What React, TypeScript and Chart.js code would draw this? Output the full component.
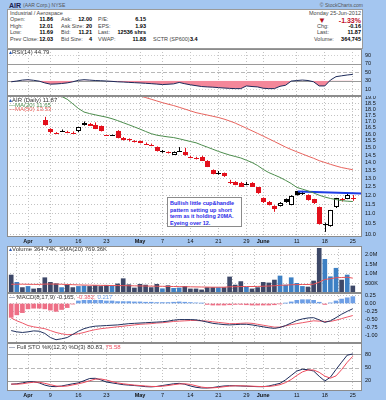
import React, { useEffect, useRef } from "react";
import { Chart, registerables } from "chart.js";
Chart.register(...registerables);

const FONT = '"Liberation Sans", Arial, sans-serif';
const FRAME = "#a4c6f0";

// trading days Mar 28 .. Jun 25, 2012
const dates = [
  "Mar 28","Mar 29","Mar 30","Apr 2","Apr 3","Apr 4","Apr 5","Apr 9","Apr 10","Apr 11","Apr 12","Apr 13",
  "Apr 16","Apr 17","Apr 18","Apr 19","Apr 20","Apr 23","Apr 24","Apr 25","Apr 26","Apr 27","Apr 30",
  "May 1","May 2","May 3","May 4","May 7","May 8","May 9","May 10","May 11","May 14","May 15","May 16",
  "May 17","May 18","May 21","May 22","May 23","May 24","May 25","May 29","May 30","May 31","Jun 1",
  "Jun 4","Jun 5","Jun 6","Jun 7","Jun 8","Jun 11","Jun 12","Jun 13","Jun 14","Jun 15","Jun 18","Jun 19",
  "Jun 20","Jun 21","Jun 22","Jun 25"];

const tickLabels = ["Apr","9","16","23","May","7","14","21","29","June","11","18","25"];
const tickIndex = [3,7,12,17,23,27,32,37,42,45,51,56,61];
const monthTicks = [3,23,45];

const opens = [19.7,19.8,20.0,19.8,19.8,19.6,
  17.1,16.37,16.08,16.25,16.16,16.12,16.22,16.72,16.78,16.72,16.62,
  15.93,15.94,16.22,15.72,15.6,15.5,15.48,15.28,15.21,15.07,
  14.72,14.68,14.53,14.79,14.72,14.37,14.3,14.39,14.12,13.51,
  13.3,13.31,12.79,12.77,12.73,12.66,12.73,12.45,11.83,11.64,
  11.42,11.41,11.78,11.5,12.22,12.1,11.99,11.78,11.33,10.44,
  10.4,11.33,11.76,11.81,11.86];
const highs = [20.0,20.3,20.2,20.1,20.0,19.8,
  17.35,16.45,16.15,16.35,16.25,16.2,16.55,16.98,16.86,16.9,16.66,
  15.95,15.96,16.3,15.78,15.68,15.55,15.52,15.38,15.3,15.1,
  14.85,14.75,14.75,15.05,15.0,14.45,14.38,14.45,14.15,13.55,
  13.45,13.35,12.9,12.82,12.78,12.78,12.76,12.47,11.88,11.68,
  11.45,11.62,11.82,12.0,12.25,12.25,12.05,11.8,11.38,10.55,
  11.2,11.85,11.85,12.1,12.01];
const lows = [19.4,19.6,19.5,19.5,19.4,19.3,
  16.65,16.05,16.0,16.18,16.07,16.02,16.15,16.65,16.62,16.38,16.2,
  15.88,15.88,15.68,15.52,15.45,15.38,15.32,15.2,15.12,14.74,
  14.65,14.6,14.5,14.72,14.45,14.28,14.2,14.1,13.7,13.24,
  13.22,13.08,12.65,12.58,12.5,12.58,12.5,12.08,11.57,11.44,
  11.1,11.38,11.58,11.45,11.98,12.02,11.7,11.52,10.45,10.1,
  10.35,11.3,11.65,11.78,11.69];
const closes = [19.5,20.1,19.7,19.9,19.6,19.4,
  16.7,16.11,16.05,16.27,16.15,16.1,16.52,16.88,16.66,16.42,16.22,
  15.91,15.92,15.71,15.56,15.52,15.48,15.34,15.27,15.2,14.76,
  14.77,14.66,14.72,14.8,14.49,14.35,14.28,14.12,13.73,13.26,
  13.31,13.1,12.77,12.61,12.52,12.67,12.52,12.11,11.59,11.46,
  11.25,11.59,11.62,11.97,12.0,12.11,11.73,11.55,10.48,10.5,
  11.19,11.83,11.77,12.03,11.87];

const ma20 = [21.8,21.4,21.0,20.6,20.2,19.9,19.6,19.35,19.2,19.1,18.85,18.45,18.05,17.75,17.62,17.52,17.42,
  17.33,17.2,17.05,16.88,16.72,16.55,16.38,16.2,16.03,15.92,15.85,15.79,15.74,15.65,15.55,15.45,15.36,
  15.2,15.05,14.9,14.75,14.62,14.5,14.4,14.3,14.15,14.0,13.8,13.55,13.35,13.2,13.05,12.87,12.68,12.45,
  12.35,12.25,12.13,12.0,11.9,11.82,11.76,11.7,11.67,11.65];
const ma50 = [22.6,22.45,22.3,22.15,22.0,21.85,21.7,21.55,21.4,21.25,21.1,20.95,20.8,20.65,20.5,20.35,
  20.2,20.05,19.9,19.75,19.6,19.45,19.3,19.15,19.0,18.85,18.7,18.55,18.42,18.3,18.15,18.0,17.85,17.7,
  17.6,17.5,17.4,17.3,17.17,17.02,16.85,16.65,16.45,16.25,16.05,15.85,15.65,15.45,15.25,15.05,14.88,
  14.72,14.57,14.42,14.28,14.12,14.0,13.88,13.77,13.67,13.6,13.53];
const trendX = [51.2, 62.7];
const trendY = [12.22, 12.1];

const rsi = [27.5,29.3,31.5,32.4,31,29,25,22,22.5,23.5,25,27.5,31,32.4,31.5,30.5,30,29.3,28.5,27.5,27,
  26.2,25.5,24.8,24,23.2,22.2,21.1,21.8,22.7,26,23,20.5,18.5,16.5,15.6,15,14,13,12.2,11.6,11.6,17.9,
  16.5,15.6,12.5,11.6,11.6,17,19.5,29.2,30.5,31.6,30.5,27.5,17.9,17.9,31.6,39.5,41.5,43.4,44.79];

const volumes = [930,550,280,340,210,240,790,550,480,280,410,280,340,360,340,380,340,400,380,470,740,
  430,260,450,410,280,450,220,380,240,260,340,210,210,160,280,280,280,280,830,410,590,310,210,280,550,
  520,670,880,410,790,500,340,310,620,2310,1740,840,1280,670,930,365];
const volSma = [450,455,455,450,445,445,460,465,460,450,440,430,420,410,405,400,395,390,385,385,380,
  375,370,365,360,355,350,345,340,335,330,325,320,315,310,305,300,300,300,320,325,335,335,335,340,350,
  360,375,400,405,425,435,440,440,455,560,700,740,790,800,815,769];

const macd = [-0.86,-0.9,-0.92,-0.9,-0.87,-0.88,-0.95,-1.08,-1.15,-1.12,-1.08,-0.98,-0.88,-0.8,-0.75,
  -0.72,-0.71,-0.7,-0.69,-0.68,-0.66,-0.64,-0.63,-0.62,-0.61,-0.6,-0.59,-0.58,-0.56,-0.53,-0.51,-0.51,
  -0.51,-0.52,-0.55,-0.59,-0.63,-0.65,-0.67,-0.68,-0.67,-0.66,-0.66,-0.68,-0.71,-0.74,-0.77,-0.79,-0.76,
  -0.7,-0.62,-0.54,-0.49,-0.46,-0.45,-0.52,-0.6,-0.55,-0.45,-0.34,-0.25,-0.165];
const signal = [-0.46,-0.55,-0.62,-0.7,-0.74,-0.77,-0.8,-0.86,-0.92,-0.96,-0.99,-0.98,-0.96,-0.92,-0.87,
  -0.83,-0.8,-0.78,-0.76,-0.74,-0.72,-0.7,-0.68,-0.66,-0.65,-0.64,-0.62,-0.61,-0.59,-0.57,-0.56,-0.55,
  -0.54,-0.54,-0.55,-0.56,-0.58,-0.6,-0.62,-0.64,-0.64,-0.63,-0.62,-0.63,-0.66,-0.69,-0.72,-0.75,-0.75,
  -0.71,-0.67,-0.64,-0.61,-0.58,-0.55,-0.56,-0.57,-0.57,-0.53,-0.48,-0.43,-0.382];
const histogram = [-0.44,-0.36,-0.29,-0.17,-0.15,-0.15,-0.17,-0.21,-0.25,-0.19,-0.13,-0.02,0.08,0.1,0.1,
  0.1,0.1,0.08,0.08,0.06,0.06,0.06,0.05,0.05,0.04,0.04,0.03,0.03,0.03,0.04,0.05,0.04,0.03,0.02,0.01,
  -0.03,-0.05,-0.05,-0.05,-0.04,-0.03,-0.03,-0.04,-0.05,-0.05,-0.05,-0.05,-0.04,-0.01,0.01,0.05,0.1,
  0.12,0.12,0.1,0.04,-0.03,0.02,0.08,0.14,0.18,0.217];

const stoK = [12,13,15,17.5,17.7,15,10,7,6.5,8,10.5,13,15,20,25,25.5,22,17,15,13,11,10,9,8,6.5,6,7,9,
  11,13,14,12,8,5,3.5,3.4,4.5,6.5,8,8.7,8.5,8,7.5,7,6.5,6.4,8,11,14,22,32,42,46,45,42,30,19.3,28,45.5,
  62,78,80.83];
const stoD = [12.5,12,13,15,16.5,16.5,14,11,8,7,8,10.5,13,16,20,23.5,24,21.5,18,15,13,11.5,10,9,8,7,
  6.8,7.5,9,11,12.5,13,11.5,8.5,5.5,4,3.8,4.8,6.3,7.7,8.4,8.4,8,7.5,7,6.6,7,8.5,11,15.7,22.7,32,40,
  44.3,44.3,39,30.4,25.8,30.9,45.2,61.8,75.58];

const X_MIN = -0.75;
const X_MAX = 62.64;
const pts = (arr: number[]) => arr.map((v, i) => ({ x: i, y: v }));

const xOpts = (labelH: number) => ({
  type: "linear", min: X_MIN, max: X_MAX, offset: false,
  afterBuildTicks: (s: any) => { s.ticks = tickIndex.map((v) => ({ value: v })); },
  afterFit: (s: any) => { s.height = labelH; s.paddingLeft = 0; s.paddingRight = 0; },
  grid: { color: "#c2c2c2", drawTicks: false, lineWidth: 1 },
  border: { display: false, dash: [1, 2] },
  ticks: {
    display: labelH > 0, autoSkip: false, maxRotation: 0, minRotation: 0, padding: 1, color: "#111",
    font: (c: any) => ({ family: FONT, size: 5.5, weight: c.tick && monthTicks.includes(c.tick.value) ? "bold" : "normal" }),
    callback: (v: number) => { const k = tickIndex.indexOf(v); return k >= 0 ? tickLabels[k] : ""; },
  },
});

const yOpts = (min: number, max: number, ticks: number[], fmt: (v: number) => string, grid = true, type = "linear") => ({
  type, position: "right", min, max,
  afterBuildTicks: (s: any) => { s.ticks = ticks.map((v) => ({ value: v })); },
  afterFit: (s: any) => { s.width = 24; s.paddingTop = 0; s.paddingBottom = 0; },
  grid: { display: grid, color: "#c2c2c2", drawTicks: false },
  border: { display: false, dash: [1, 2] },
  ticks: { padding: 3, color: "#111", autoSkip: false, font: { family: FONT, size: 5.5 }, callback: (v: number) => fmt(v) },
});

const decor = {
  id: "decor",
  beforeDraw(chart: any) {
    const { ctx, chartArea: a } = chart;
    ctx.save();
    ctx.fillStyle = "#fff";
    ctx.fillRect(a.left, a.top, a.right - a.left, a.bottom - a.top);
    ctx.restore();
  },
  beforeDatasetsDraw(chart: any, _args: any, opts: any) {
    const { ctx, chartArea: a, scales } = chart;
    const lines = (opts && opts.hlines) || [];
    ctx.save();
    for (const l of lines) {
      const py = Math.round(scales.y.getPixelForValue(l.v)) + 0.5;
      ctx.strokeStyle = l.color;
      ctx.setLineDash(l.dash || []);
      ctx.lineWidth = 1;
      ctx.beginPath();
      ctx.moveTo(a.left, py);
      ctx.lineTo(a.right, py);
      ctx.stroke();
    }
    ctx.restore();
  },
  afterDraw(chart: any) {
    const { ctx, chartArea: a } = chart;
    ctx.save();
    ctx.strokeStyle = "#8c8c8c";
    ctx.lineWidth = 1;
    ctx.strokeRect(a.left + 0.5, a.top + 0.5, a.right - a.left - 1, a.bottom - a.top - 1);
    ctx.restore();
  },
};

const candles = {
  id: "candles",
  beforeDatasetsDraw(chart: any) {
    const { ctx, chartArea: a, scales } = chart;
    const x = scales.x, y = scales.y;
    ctx.save();
    ctx.beginPath();
    ctx.rect(a.left, a.top, a.right - a.left, a.bottom - a.top);
    ctx.clip();
    for (let i = 0; i < closes.length; i++) {
      const prev = i > 0 ? closes[i - 1] : opens[i];
      const color = closes[i] < prev ? "#e3101c" : "#000";
      const cx = Math.round(x.getPixelForValue(i));
      const yo = y.getPixelForValue(opens[i]);
      const yc = y.getPixelForValue(closes[i]);
      const yh = y.getPixelForValue(highs[i]);
      const yl = y.getPixelForValue(lows[i]);
      ctx.strokeStyle = color;
      ctx.lineWidth = 1;
      ctx.beginPath();
      ctx.moveTo(cx + 0.5, yh);
      ctx.lineTo(cx + 0.5, yl);
      ctx.stroke();
      const top = Math.round(Math.min(yo, yc));
      const h = Math.max(1, Math.round(Math.abs(yo - yc)));
      if (closes[i] > opens[i] && h > 1) {
        ctx.fillStyle = "#fff";
        ctx.fillRect(cx - 2, top, 5, h);
        ctx.strokeRect(cx - 1.5, top + 0.5, 4, h - 1);
      } else {
        ctx.fillStyle = color;
        ctx.fillRect(cx - 2, top, 5, h);
      }
    }
    ctx.restore();
  },
};

const base = (extra: any) => ({
  responsive: false, maintainAspectRatio: false, animation: false, events: [],
  layout: { padding: 0 },
  plugins: { legend: { display: false }, tooltip: { enabled: false }, ...extra },
});

const line = (arr: number[], color: string, width = 1, extra: any = {}) => ({
  type: "line", data: pts(arr), borderColor: color, borderWidth: width, pointRadius: 0, tension: 0, ...extra,
});

const rsiConfig = () => ({
  type: "line",
  data: { datasets: [line(rsi, "#1c2a5a", 1, { fill: { target: { value: 30 }, above: "rgba(0,0,0,0)", below: "#f4879a" } })] },
  options: {
    ...base({ decor: { hlines: [
      { v: 90, color: "#cfcfcf", dash: [1, 2] }, { v: 70, color: "#9a9a9a" }, { v: 50, color: "#b8b8b8", dash: [4, 2] },
      { v: 30, color: "#9a9a9a" }, { v: 10, color: "#cfcfcf", dash: [1, 2] }] } }),
    scales: { x: xOpts(0), y: yOpts(-5.6, 104, [10, 30, 50, 70, 90], (v) => String(v), false) },
  },
  plugins: [decor],
});

const priceTicks = [10, 10.5, 11, 11.5, 12, 12.5, 13, 13.5, 14, 14.5, 15, 15.5, 16, 16.5, 17, 17.5, 18, 18.5, 19];
const priceConfig = () => ({
  type: "line",
  data: { datasets: [
    line(ma20, "#4d8d4d"),
    line(ma50, "#e8645e"),
    { type: "line", data: trendX.map((x, k) => ({ x, y: trendY[k] })), borderColor: "#1d3de6", borderWidth: 2, pointRadius: 0 },
  ] },
  options: {
    ...base({ decor: { hlines: [] } }),
    scales: { x: xOpts(9), y: yOpts(9.86, 19.14, priceTicks, (v) => v.toFixed(1), true, "logarithmic") },
  },
  plugins: [decor, candles],
});

const volConfig = () => ({
  type: "bar",
  data: { datasets: [
    line(volSma, "#e8545a", 1, { order: 0 }),
    { type: "bar", data: pts(volumes), order: 1, barThickness: 4,
      backgroundColor: volumes.map((_, i) => (i > 0 && closes[i] > closes[i - 1] ? "#3d80c4" : "#3d4868")) },
  ] },
  options: {
    ...base({ decor: { hlines: [] } }),
    scales: { x: xOpts(0), y: yOpts(0, 2430, [500, 1000, 1500, 2000], (v) => (v >= 1000 ? (v / 1000).toFixed(1) + "M" : v + "K")) },
  },
  plugins: [decor],
});

const macdConfig = () => ({
  type: "bar",
  data: { datasets: [
    line(macd, "#22325f", 1, { order: 0 }),
    line(signal, "#ee5a6a", 1, { order: 0 }),
    { type: "bar", data: pts(histogram), order: 1, barThickness: 4,
      backgroundColor: histogram.map((v) => (v >= 0 ? "#6e9fe6" : "#ee6f86")) },
  ] },
  options: {
    ...base({ decor: { hlines: [] } }),
    scales: { x: xOpts(0), y: yOpts(-1.254, 0.333, [-1, -0.75, -0.5, -0.25, 0, 0.25], (v) => v.toFixed(2)) },
  },
  plugins: [decor],
});

const stoConfig = () => ({
  type: "line",
  data: { datasets: [line(stoD, "#ee4a5c"), line(stoK, "#1c2a5a")] },
  options: {
    ...base({ decor: { hlines: [
      { v: 80, color: "#9a9a9a" }, { v: 50, color: "#b8b8b8", dash: [4, 2] }, { v: 20, color: "#9a9a9a" }] } }),
    scales: { x: xOpts(9), y: yOpts(-3.4, 105.7, [20, 50, 80], (v) => String(v), false) },
  },
  plugins: [decor],
});

function Panel({ top, height, config }: { top: number; height: number; config: () => any }) {
  const ref = useRef<HTMLCanvasElement>(null);
  useEffect(() => {
    const c = new Chart(ref.current as HTMLCanvasElement, config());
    return () => c.destroy();
  }, []);
  return (
    <canvas ref={ref} width={379} height={height}
      style={{ position: "absolute", left: 7, top, width: 379, height, display: "block" }} />
  );
}

function T({ x, y, children, right, bold, color = "#444", size = 5.5 }: any) {
  const style: any = {
    position: "absolute", top: y - size * 0.55, fontSize: size, lineHeight: 1, whiteSpace: "nowrap",
    fontFamily: FONT, fontWeight: bold ? "bold" : "normal", color,
  };
  if (right) style.right = 386 - x; else style.left = x;
  return <span style={style}>{children}</span>;
}

export default function App() {
  return (
    <div style={{ position: "absolute", left: 0, top: 0, width: 386, height: 400, background: FRAME, overflow: "hidden", fontFamily: FONT }}>
      {/* title */}
      <T x={9} y={5.5} size={7} bold color="#1a2050">AIR</T>
      <T x={23} y={6} size={5} color="#555">(AAR Corp.) NYSE</T>
      <T x={363} y={6} size={5} right color="#555">© StockCharts.com</T>
      {/* info box */}
      <div style={{ position: "absolute", left: 7, top: 9, width: 354, height: 38, background: "#fff", border: "1px solid #9a9a9a" }} />
      <T x={10} y={14}>Industrial / Aerospace</T>
      <T x={361} y={14} right>Monday  25-Jun-2012</T>

      <T x={10} y={20.3}>Open:</T><T x={53} y={20.3} right bold color="#000">11.86</T>
      <T x={61} y={20.3}>Ask:</T><T x={92} y={20.3} right bold color="#000">12.00</T>
      <T x={98} y={20.3}>P/E:</T><T x={146} y={20.3} right bold color="#000">6.15</T>
      <T x={318} y={21} size={8} color="#b0101c">▼</T>
      <T x={361} y={20.5} right bold size={7} color="#c0102a">-1.33%</T>

      <T x={10} y={26.8}>High:</T><T x={53} y={26.8} right bold color="#000">12.01</T>
      <T x={61} y={26.8}>Ask Size:</T><T x={92} y={26.8} right bold color="#000">20</T>
      <T x={98} y={26.8}>EPS:</T><T x={146} y={26.8} right bold color="#000">1.93</T>
      <T x={317} y={26.8}>Chg:</T><T x={361} y={26.8} right bold color="#000">-0.16</T>

      <T x={10} y={33.3}>Low:</T><T x={53} y={33.3} right bold color="#000">11.69</T>
      <T x={61} y={33.3}>Bid:</T><T x={92} y={33.3} right bold color="#000">11.21</T>
      <T x={98} y={33.3}>Last:</T><T x={146} y={33.3} right bold color="#000">12536 shrs</T>
      <T x={317} y={33.3}>Last:</T><T x={361} y={33.3} right bold color="#000">11.87</T>

      <T x={10} y={39.8}>Prev Close:</T><T x={53} y={39.8} right bold color="#000">12.03</T>
      <T x={61} y={39.8}>Bid Size:</T><T x={92} y={39.8} right bold color="#000">4</T>
      <T x={98} y={39.8}>VWAP:</T><T x={146} y={39.8} right bold color="#000">11.88</T>
      <T x={153} y={39.8}>SCTR (SP600)</T><T x={190} y={39.8} bold color="#000">3.4</T>
      <T x={314} y={39.8}>Volume:</T><T x={361} y={39.8} right bold color="#000">364,745</T>

      <Panel top={49} height={47} config={rsiConfig} />
      <Panel top={96} height={150} config={priceConfig} />
      <Panel top={246} height={47} config={volConfig} />
      <Panel top={293} height={50} config={macdConfig} />
      <Panel top={343} height={57} config={stoConfig} />

      {/* panel labels */}
      <T x={9} y={52.3} size={6} color="#333"><span style={{ color: "#2a5bb8" }}>▴</span>RSI(14) 44.79</T>
      <T x={9} y={100.5} size={6} color="#333"><span style={{ color: "#2a5bb8" }}>▴</span>AIR (Daily) 11.87</T>
      <T x={9} y={105} size={6} color="#4d8d4d">—MA(20) 11.65</T>
      <T x={9} y={109.5} size={6} color="#e8645e">—MA(50) 13.53</T>
      <T x={9} y={249.5} size={6} color="#333"><span style={{ color: "#2a5bb8" }}>▴</span>Volume 364.74K, SMA(20) 769.36K</T>
      <T x={9} y={297} size={6} color="#333"><span style={{ color: "#22325f" }}>—</span> MACD(8,17,9) -0.165, <span style={{ color: "#ee5a6a" }}>-0.382,</span> <span style={{ color: "#6e9fe6" }}>0.217</span></T>
      <T x={9} y={347} size={6} color="#333"><span style={{ color: "#22325f" }}>—</span> Full STO %K(12,3) %D(3) 80.83, <span style={{ color: "#ee4a5c" }}>75.58</span></T>

      {/* annotation */}
      <div style={{ position: "absolute", left: 167, top: 197, width: 75, height: 30, background: "#fff", border: "1px solid #8a8a8a",
        fontFamily: FONT, fontSize: 5.5, fontWeight: "bold", color: "#2a2ae8", lineHeight: "6.6px", padding: "2px 0 0 2px", boxSizing: "border-box" }}>
        Bullish little cup&amp;handle<br />pattern setting up short<br />term as it holding 20MA.<br />Eyeing over 12.
      </div>
    </div>
  );
}
